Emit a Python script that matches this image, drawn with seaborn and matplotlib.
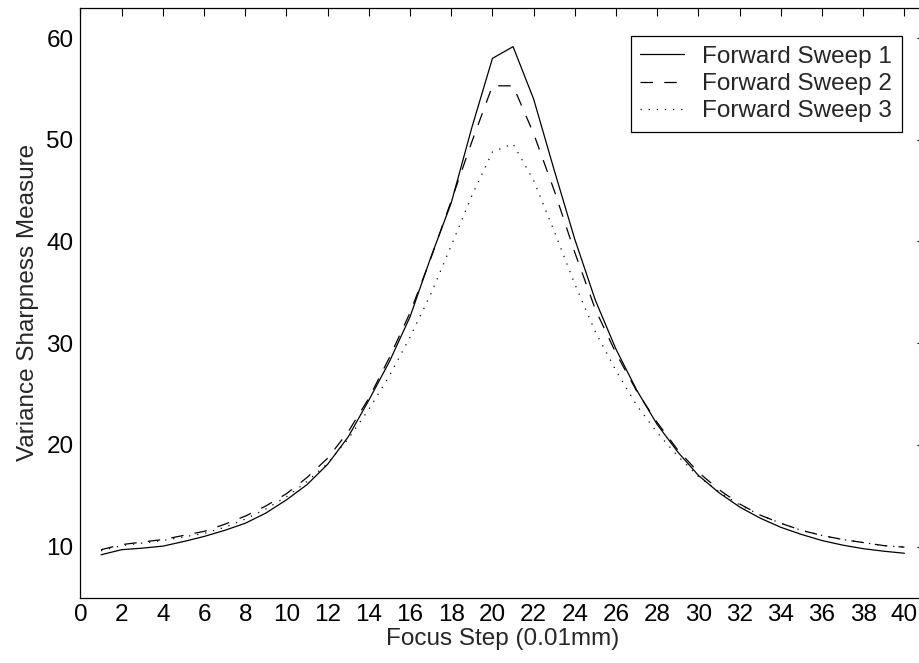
import matplotlib
matplotlib.use("Agg")
import matplotlib.pyplot as plt
import seaborn as sns
import pandas as pd
import numpy as np

steps = list(range(1, 41))
sweep1 = [9.2, 9.7, 9.85, 10.05, 10.5, 11.0, 11.6, 12.3, 13.3, 14.6,
          16.1, 18.1, 20.8, 24.4, 28.2, 32.6, 38.4, 43.8, 51.2, 58.0,
          59.15, 54.0, 47.0, 40.2, 34.2, 29.4, 25.4, 22.0, 19.3, 17.0,
          15.3, 13.9, 12.8, 11.9, 11.2, 10.6, 10.15, 9.8, 9.55, 9.35]
sweep2 = [9.7, 10.2, 10.45, 10.7, 11.1, 11.5, 12.2, 13.0, 14.0, 15.2,
          16.8, 18.7, 21.3, 24.6, 28.6, 33.0, 38.3, 44.0, 49.8, 55.3,
          55.3, 50.6, 45.0, 38.9, 33.3, 29.0, 25.3, 22.2, 19.5, 17.3,
          15.6, 14.2, 13.1, 12.3, 11.6, 11.1, 10.7, 10.4, 10.1, 9.95]
sweep3 = [9.6, 10.1, 10.35, 10.6, 10.95, 11.3, 11.9, 12.7, 13.7, 14.9,
          16.4, 18.2, 20.6, 23.5, 26.8, 30.6, 34.8, 39.6, 44.5, 48.8,
          49.6, 46.0, 41.0, 35.8, 31.1, 27.3, 23.9, 21.2, 18.9, 16.9,
          15.4, 14.1, 13.1, 12.3, 11.6, 11.1, 10.7, 10.4, 10.1, 9.95]
labels = ["Forward Sweep 1", "Forward Sweep 2", "Forward Sweep 3"]
xticks = list(range(0, 41, 2))
yticks = [10, 20, 30, 40, 50, 60]

df = pd.DataFrame({
    "step": steps * 3,
    "value": sweep1 + sweep2 + sweep3,
    "series": [labels[0]] * 40 + [labels[1]] * 40 + [labels[2]] * 40,
})

sns.set_style("white")
plt.rcParams["font.family"] = ["Liberation Sans", "DejaVu Sans"]
FS = 17.5

W, H = 920, 663
fig = plt.figure(figsize=(W / 100, H / 100), dpi=100)
left_px, right_px, top_px, bot_px = 80.5, 925.0, 7.5, 597.5
ax = fig.add_axes([left_px / W, 1 - bot_px / H, (right_px - left_px) / W, (bot_px - top_px) / H])

dashes = {labels[0]: "", labels[1]: (10, 9), labels[2]: (1, 5.5)}
sns.lineplot(data=df, x="step", y="value", style="series", dashes=dashes,
             color="black", linewidth=0.9, legend=False, ax=ax,
             style_order=labels)

ax.set_xlim(0, 41)
ax.set_ylim(5, 63)
ax.set_xticks(xticks)
ax.set_yticks(yticks)
ax.tick_params(direction="in", length=5.5, width=0.8, top=True, right=True,
               labelsize=FS, pad=5, colors="black")
for s in ax.spines.values():
    s.set_visible(True)
    s.set_color("black")
    s.set_linewidth(0.9)

ax.set_xlabel("Focus Step (0.01mm)", fontsize=FS, labelpad=1)
ax.set_ylabel("Variance Sharpness Measure", fontsize=FS, labelpad=5)

lines = ax.get_lines()[:3]
leg = ax.legend(lines, labels, loc="upper right",
                bbox_to_anchor=(902 / W, 1 - 36 / H), bbox_transform=fig.transFigure,
                borderaxespad=0, fontsize=FS, frameon=True, fancybox=False,
                shadow=False, framealpha=1, handlelength=1.8, handletextpad=0.75,
                labelspacing=0.22, borderpad=0.4)
leg.get_frame().set_edgecolor("black")
leg.get_frame().set_linewidth(0.9)

fig.savefig("out.png", dpi=100)
